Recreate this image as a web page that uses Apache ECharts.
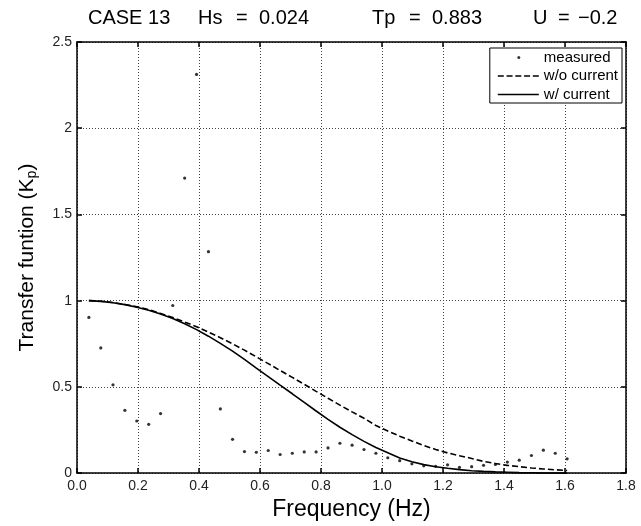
<!DOCTYPE html>
<html>
<head>
<meta charset="utf-8">
<script src="https://cdn.jsdelivr.net/npm/echarts@6/dist/echarts.min.js"></script>
<style>
html,body{margin:0;padding:0;background:#fff;}
#chart{width:641px;height:526px;}
</style>
</head>
<body>
<div id="chart"></div>
<script>
var titleParts = ['CASE 13', 'Hs', '=', '0.024', 'Tp', '=', '0.883', 'U', '=', '\u22120.2'];
var xTicks = [0.0, 0.2, 0.4, 0.6, 0.8, 1.0, 1.2, 1.4, 1.6, 1.8];
var yTicks = [0, 0.5, 1, 1.5, 2, 2.5];
var freq = [0.039, 0.078, 0.118, 0.157, 0.196, 0.235, 0.274, 0.314, 0.353, 0.392,
            0.431, 0.470, 0.510, 0.549, 0.588, 0.627, 0.666, 0.706, 0.745, 0.784,
            0.823, 0.862, 0.902, 0.941, 0.980, 1.019, 1.058, 1.098, 1.137, 1.176,
            1.215, 1.254, 1.294, 1.333, 1.372, 1.411, 1.450, 1.490, 1.529, 1.568, 1.607];
var measured = [0.903, 0.726, 0.512, 0.364, 0.302, 0.283, 0.345, 0.972, 1.711, 2.312,
                1.284, 0.372, 0.196, 0.125, 0.121, 0.131, 0.108, 0.115, 0.123, 0.123,
                0.146, 0.173, 0.162, 0.137, 0.115, 0.089, 0.072, 0.054, 0.042, 0.039,
                0.048, 0.033, 0.037, 0.045, 0.050, 0.064, 0.075, 0.102, 0.133, 0.115, 0.083];
var withoutCurrent = [1.000, 0.997, 0.989, 0.978, 0.965, 0.948, 0.926, 0.902, 0.876, 0.849,
                      0.818, 0.785, 0.750, 0.713, 0.674, 0.635, 0.595, 0.555, 0.515, 0.474,
                      0.434, 0.394, 0.355, 0.318, 0.276, 0.244, 0.214, 0.186, 0.160, 0.137,
                      0.117, 0.101, 0.085, 0.068, 0.056, 0.045, 0.037, 0.030, 0.024, 0.019, 0.015];
var withCurrent = [1.000, 0.996, 0.988, 0.977, 0.962, 0.944, 0.922, 0.896, 0.866, 0.832,
                   0.794, 0.752, 0.707, 0.659, 0.609, 0.560, 0.510, 0.460, 0.410, 0.360,
                   0.312, 0.266, 0.223, 0.184, 0.148, 0.118, 0.088, 0.066, 0.049, 0.037,
                   0.028, 0.020, 0.014, 0.010, 0.007, 0.005, 0.003, 0.002, 0.001, 0.001, 0.000];
var seriesNames = ['measured', 'w/o current', 'w/ current'];

function pairs(ys) { return freq.map(function (f, i) { return [f, ys[i]]; }); }

var FONT = 'Liberation Sans, Arial, sans-serif';
// title tokens laid out as in the reference (token box widths in px)
var titleWidths = [110, 38, 23, 113, 37, 23, 101, 25, 20, 0];
var titleRich = {};
var titleText = titleParts.map(function (t, i) {
  var key = 't' + i;
  titleRich[key] = {fontFamily: FONT, fontSize: 20, color: '#000'};
  if (titleWidths[i]) titleRich[key].width = titleWidths[i];
  return '{' + key + '|' + t + '}';
}).join('');

var chart = echarts.init(document.getElementById('chart'), null, {renderer: 'canvas'});
var gridLine = {show: true, lineStyle: {color: '#444', type: [1, 2], width: 1}};
var axisBox = {show: true, onZero: false, lineStyle: {color: '#000', width: 1.5}};
var inTick = {show: true, inside: true, length: 5, lineStyle: {color: '#000', width: 1.5}};
var option = {
  backgroundColor: '#fff',
  animation: false,
  title: {
    text: titleText, left: 88, top: 8, padding: 0,
    textStyle: {fontFamily: FONT, fontSize: 20, fontWeight: 'normal', color: '#000', rich: titleRich}
  },
  legend: {
    orient: 'vertical', right: 19, top: 48,
    backgroundColor: '#fff', borderColor: '#000', borderWidth: 1, borderRadius: 0,
    padding: [2, 4, 1, 8], itemWidth: 41, itemHeight: 12, itemGap: 3.5,
    textStyle: {fontFamily: FONT, fontSize: 15, color: '#000'},
    data: [
      {name: seriesNames[0], icon: 'path://M0,0M19.5,6a1.5,1.5 0 1,0 3,0a1.5,1.5 0 1,0 -3,0M41,12'},
      {name: seriesNames[1], icon: 'path://M0,0M0,5.3h6v1.5h-6zM8.75,5.3h6v1.5h-6zM17.5,5.3h6v1.5h-6zM26.25,5.3h6v1.5h-6zM35,5.3h6v1.5h-6zM41,12'},
      {name: seriesNames[2], icon: 'path://M0,0M0,5.3h41v1.5h-41zM41,12'}
    ]
  },
  grid: {left: 77, right: 15, top: 42, bottom: 51, containLabel: false},
  xAxis: [{
    type: 'value', min: 0, max: 1.8, interval: 0.2, position: 'bottom',
    axisLine: axisBox, axisTick: inTick,
    axisLabel: {fontFamily: FONT, fontSize: 14, color: '#222', margin: 6,
                formatter: function (v) { return v.toFixed(1); }},
    splitLine: gridLine,
    name: 'Frequency (Hz)', nameLocation: 'middle', nameGap: 24,
    nameTextStyle: {fontFamily: FONT, fontSize: 23, color: '#000'}
  }, {
    type: 'value', min: 0, max: 1.8, interval: 0.2, position: 'top',
    axisLine: axisBox, axisTick: inTick,
    axisLabel: {show: false}, splitLine: {show: false}
  }],
  yAxis: [{
    type: 'value', min: 0, max: 2.5, interval: 0.5, position: 'left',
    axisLine: axisBox, axisTick: inTick,
    axisLabel: {fontFamily: FONT, fontSize: 14, color: '#222', margin: 5},
    splitLine: gridLine,
    name: 'Transfer funtion (K{sub|p})', nameLocation: 'middle', nameGap: 38,
    nameTextStyle: {fontFamily: FONT, fontSize: 21, color: '#000',
      rich: {sub: {fontFamily: FONT, fontSize: 14, color: '#000', verticalAlign: 'bottom', padding: [9, 0, 0, 0]}}}
  }, {
    type: 'value', min: 0, max: 2.5, interval: 0.5, position: 'right',
    axisLine: axisBox, axisTick: inTick,
    axisLabel: {show: false}, splitLine: {show: false}
  }],
  series: [{
    name: seriesNames[0], type: 'scatter', xAxisIndex: 0, yAxisIndex: 0,
    symbol: 'circle', symbolSize: 3.2, itemStyle: {color: '#000'},
    data: pairs(measured), z: 5
  }, {
    name: seriesNames[1], type: 'line', xAxisIndex: 0, yAxisIndex: 0,
    showSymbol: false, symbol: 'none',
    lineStyle: {color: '#000', width: 1.6, type: [6, 3]}, itemStyle: {color: '#000'},
    data: pairs(withoutCurrent)
  }, {
    name: seriesNames[2], type: 'line', xAxisIndex: 0, yAxisIndex: 0,
    showSymbol: false, symbol: 'none',
    lineStyle: {color: '#000', width: 1.6, type: 'solid'}, itemStyle: {color: '#000'},
    data: pairs(withCurrent)
  }]
};
chart.setOption(option);
</script>
</body>
</html>
